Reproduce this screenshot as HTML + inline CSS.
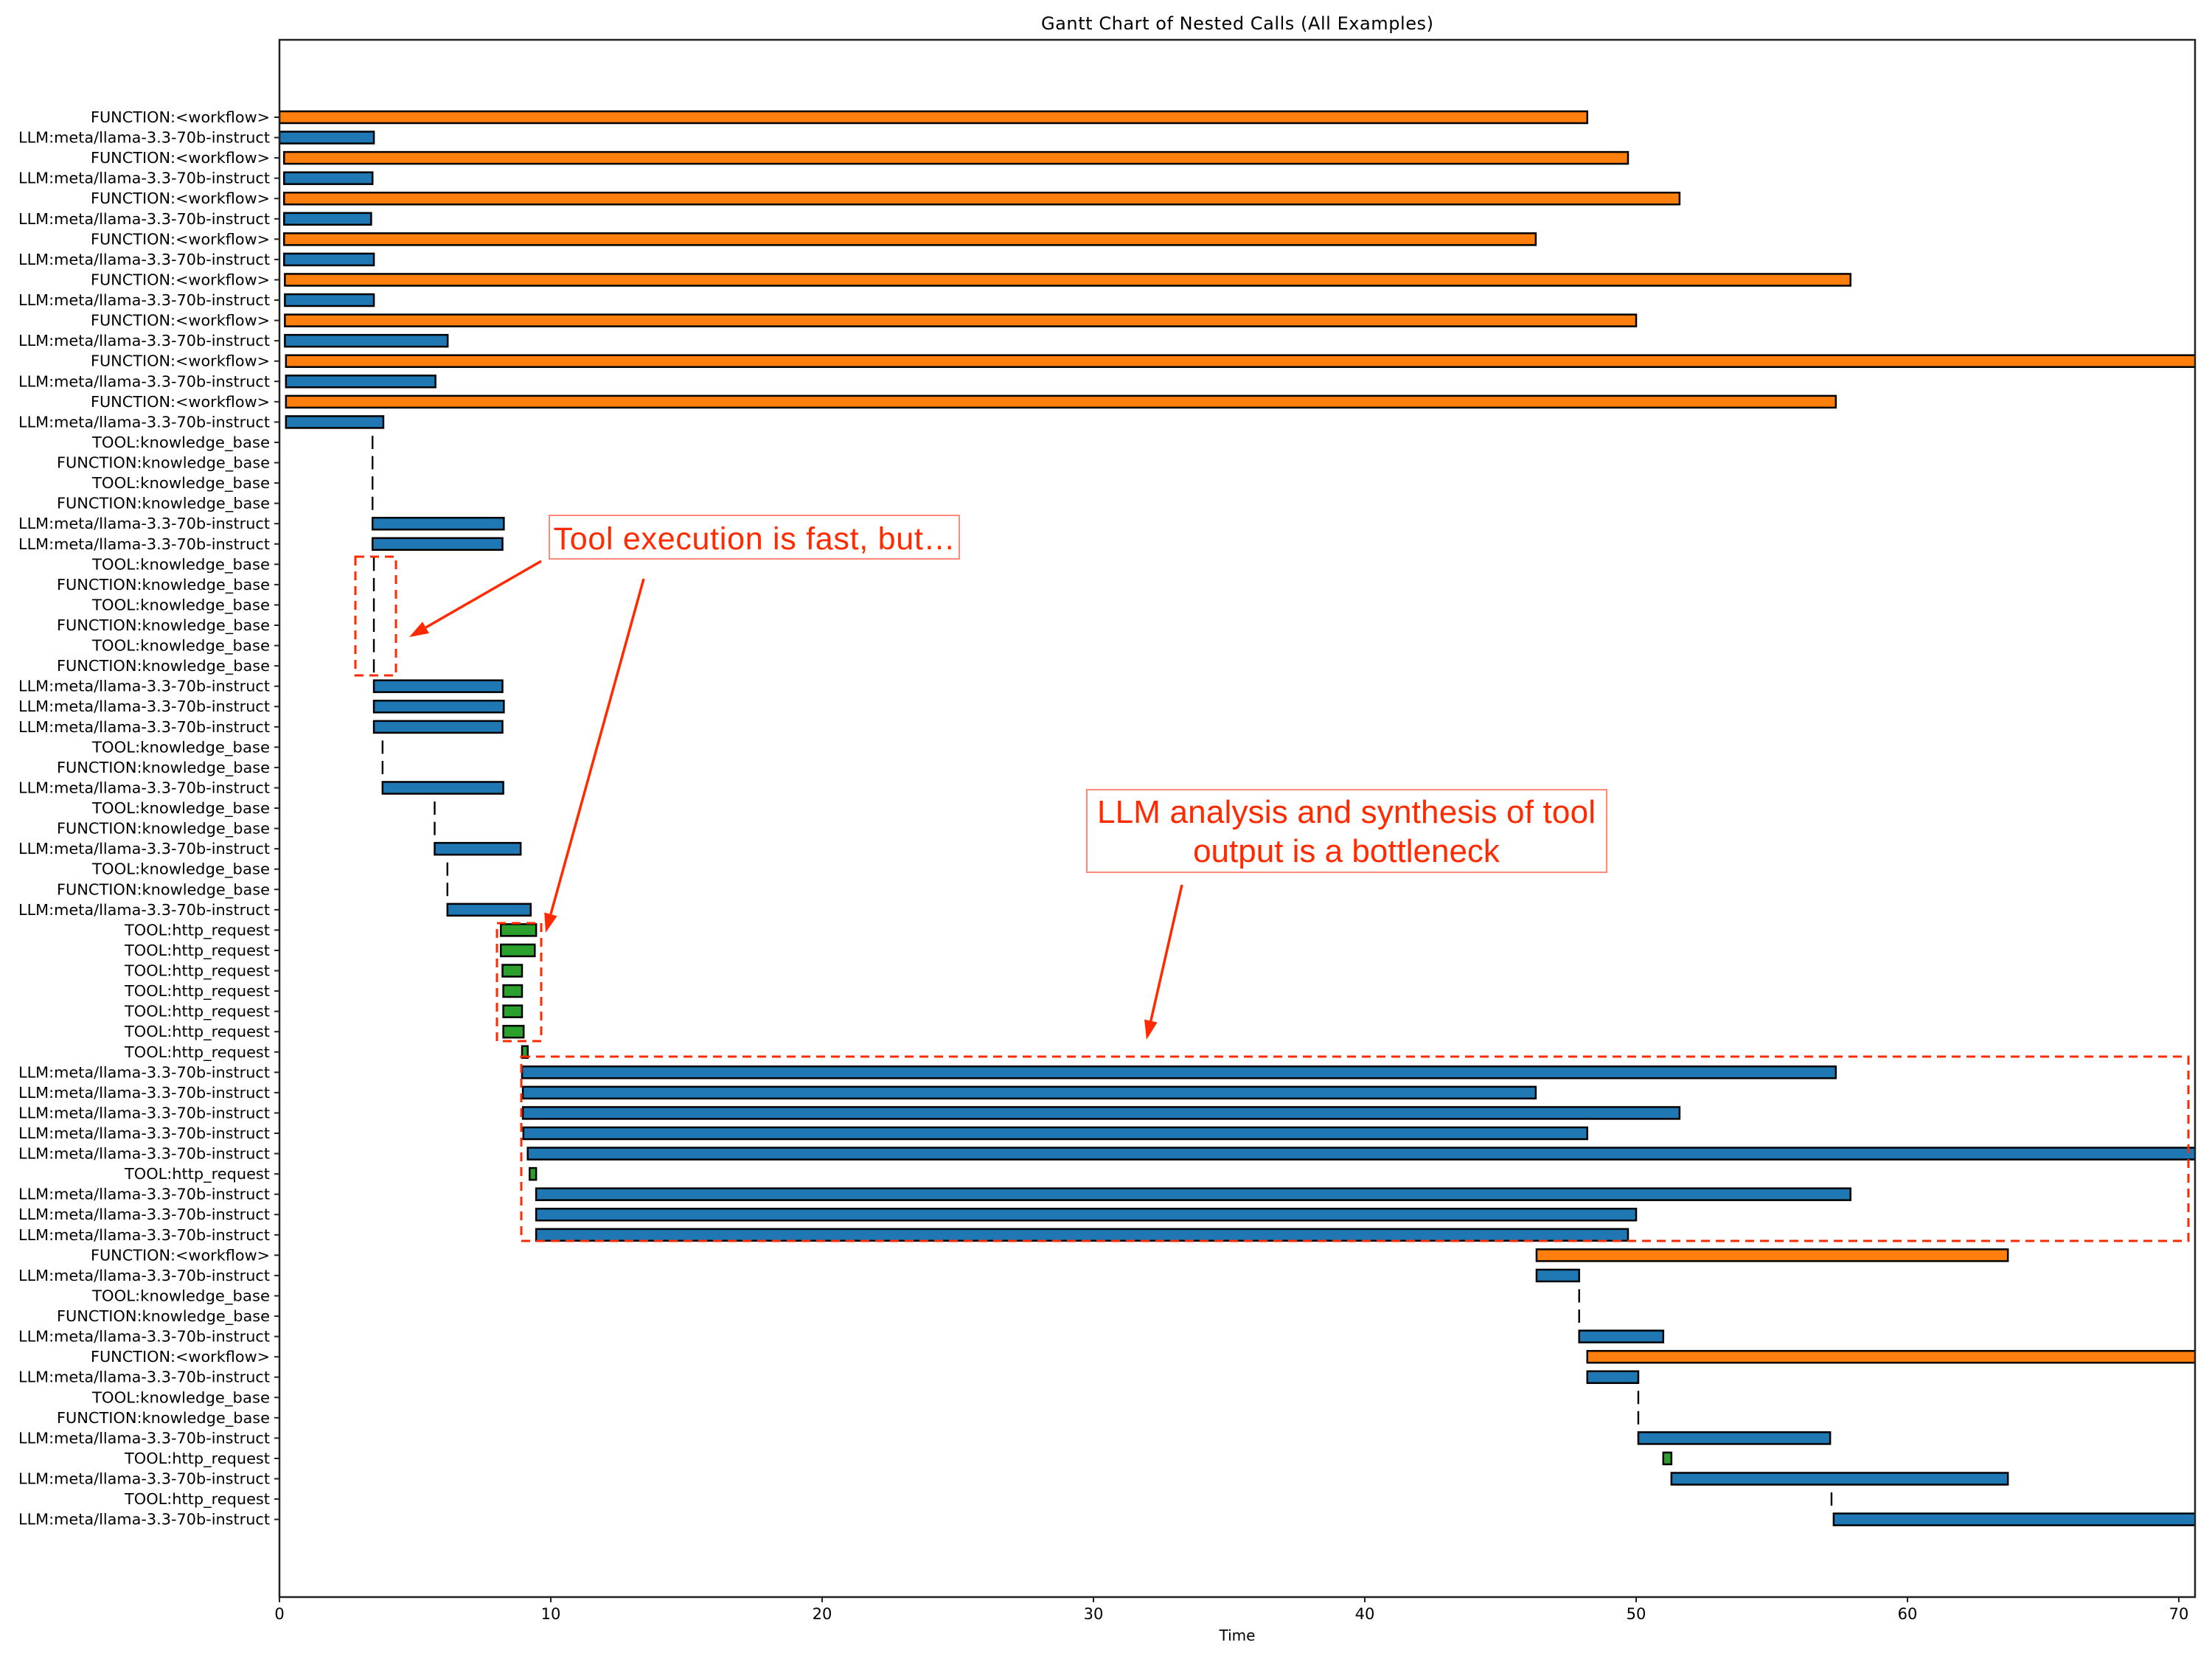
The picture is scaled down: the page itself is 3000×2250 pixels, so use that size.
<!DOCTYPE html>
<html><head><meta charset="utf-8"><style>html,body{margin:0;padding:0;background:#fff}svg{display:block}</style></head>
<body>
<svg id="s" width="3000" height="2250" viewBox="0 0 3000 2250" xmlns="http://www.w3.org/2000/svg">
<rect width="3000" height="2250" fill="#fff"/>
<defs><clipPath id="c"><rect x="379" y="54" width="2598" height="2112"/></clipPath></defs>
<g id="bars" clip-path="url(#c)"></g>
<g id="labels" font-family="DejaVu Sans, sans-serif" font-size="20" fill="#000" text-anchor="end"></g>
<rect x="379" y="54" width="2598" height="2112" fill="none" stroke="#222" stroke-width="2.5"/>
<g font-family="DejaVu Sans, sans-serif" font-size="20" text-anchor="middle" fill="#000">
<text x="1678" y="40" font-size="24" textLength="532">Gantt Chart of Nested Calls (All Examples)</text>
<text x="1678" y="2225">Time</text>
</g>
<g id="xt" font-family="DejaVu Sans, sans-serif" font-size="21" text-anchor="middle"></g>
<g fill="none" stroke="#ff2a00" stroke-width="3" stroke-dasharray="12,8">
<rect x="482" y="755" width="55" height="161"/>
<rect x="674" y="1252" width="60" height="160"/>
<rect x="707" y="1433" width="2261" height="250"/>
</g>
<rect x="745" y="699" width="556" height="59" fill="#fff" stroke="#ff8a7a" stroke-width="2"/>
<text x="1023" y="745" font-family="Liberation Sans, sans-serif" font-size="43" fill="#ff2a00" text-anchor="middle" textLength="545">Tool execution is fast, but…</text>
<rect x="1474" y="1071" width="705" height="112" fill="#fff" stroke="#ff8a7a" stroke-width="2"/>
<g font-family="Liberation Sans, sans-serif" font-size="44" fill="#ff2a00" text-anchor="middle">
<text x="1826" y="1116" textLength="676">LLM analysis and synthesis of tool</text>
<text x="1826" y="1169">output is a bottleneck</text>
</g>
<g id="arr" stroke="#ff2a00" stroke-width="3.5"></g>
</svg>
<script>
const L="LLM:meta/llama-3.3-70b-instruct",F="FUNCTION:<workflow>",TK="TOOL:knowledge_base",FK="FUNCTION:knowledge_base",H="TOOL:http_request";
const B="#1f77b4",O="#ff7f0e",G="#2ca02c";
const rows=[
[F,0,48.2,O],[L,0,3.48,B],[F,0.17,49.7,O],[L,0.17,3.43,B],[F,0.17,51.6,O],[L,0.17,3.38,B],[F,0.17,46.3,O],[L,0.17,3.48,B],
[F,0.2,57.9,O],[L,0.2,3.48,B],[F,0.2,50.0,O],[L,0.2,6.2,B],[F,0.24,71,O],[L,0.24,5.75,B],[F,0.24,57.36,O],[L,0.24,3.83,B],
[TK,3.43,3.43],[FK,3.43,3.43],[TK,3.43,3.43],[FK,3.43,3.43],[L,3.43,8.27,B],[L,3.43,8.22,B],
[TK,3.48,3.48],[FK,3.48,3.48],[TK,3.48,3.48],[FK,3.48,3.48],[TK,3.48,3.48],[FK,3.48,3.48],
[L,3.48,8.22,B],[L,3.48,8.27,B],[L,3.48,8.22,B],[TK,3.8,3.8],[FK,3.8,3.8],[L,3.8,8.25,B],
[TK,5.72,5.72],[FK,5.72,5.72],[L,5.72,8.89,B],[TK,6.19,6.19],[FK,6.19,6.19],[L,6.19,9.26,B],
[H,8.16,9.46,G],[H,8.16,9.41,G],[H,8.22,8.94,G],[H,8.25,8.94,G],[H,8.25,8.94,G],[H,8.25,9.0,G],[H,8.94,9.15,G],
[L,8.94,57.36,B],[L,8.97,46.3,B],[L,8.97,51.6,B],[L,8.99,48.2,B],[L,9.15,71,B],[H,9.22,9.46,G],
[L,9.46,57.9,B],[L,9.46,50.0,B],[L,9.46,49.7,B],
[F,46.33,63.7,O],[L,46.33,47.9,B],[TK,47.9,47.9],[FK,47.9,47.9],[L,47.9,51.0,B],
[F,48.2,71,O],[L,48.2,50.08,B],[TK,50.08,50.08],[FK,50.08,50.08],[L,50.08,57.15,B],
[H,51.0,51.3,G],[L,51.3,63.7,B],[H,57.2,57.28,G],[L,57.28,71,B]];
const W={[L]:341,[F]:243,[TK]:241,[FK]:289,[H]:197};
const ns="http://www.w3.org/2000/svg";
const X=t=>379+t*36.8, Y=i=>159+i*27.56;
const bars=document.getElementById("bars"),lab=document.getElementById("labels"),xt=document.getElementById("xt"),s=document.getElementById("s"),arr=document.getElementById("arr");
function el(p,n,a,t){const e=document.createElementNS(ns,n);for(const k in a)e.setAttribute(k,a[k]);if(t)e.textContent=t;p.appendChild(e);return e;}
rows.forEach((r,i)=>{const y=Y(i);
 if(r[3]&&r[2]-r[1]>0.1){el(bars,"rect",{x:X(r[1]),y:y-8,width:X(r[2])-X(r[1]),height:16,fill:r[3],stroke:"#000","stroke-width":2.5});}
 else{el(bars,"rect",{x:X(r[1])-1.2,y:y-9,width:2.4,height:18,fill:"#000"});}
 el(lab,"text",{x:366,y:y+7,textLength:W[r[0]],lengthAdjust:"spacingAndGlyphs"},r[0]);
 el(s,"line",{x1:372,x2:379,y1:y,y2:y,stroke:"#222","stroke-width":2});
});
for(let t=0;t<=70;t+=10){const x=X(t);el(s,"line",{x1:x,x2:x,y1:2166,y2:2173,stroke:"#222","stroke-width":2});el(xt,"text",{x:x,y:2196},String(t));}
function arrow(x1,y1,x2,y2){const dx=x2-x1,dy=y2-y1,l=Math.hypot(dx,dy),ux=dx/l,uy=dy/l,hl=26,hw=9;
 const bx=x2-ux*hl,by=y2-uy*hl;
 el(arr,"line",{x1:x1,y1:y1,x2:bx,y2:by});
 el(arr,"polygon",{points:`${x2},${y2} ${bx-uy*hw},${by+ux*hw} ${bx+uy*hw},${by-ux*hw}`,fill:"#ff2a00",stroke:"none"});}
arrow(734,761,555,864);arrow(873,785,740,1265);arrow(1603,1200,1555,1410);
</script>
</body></html>
